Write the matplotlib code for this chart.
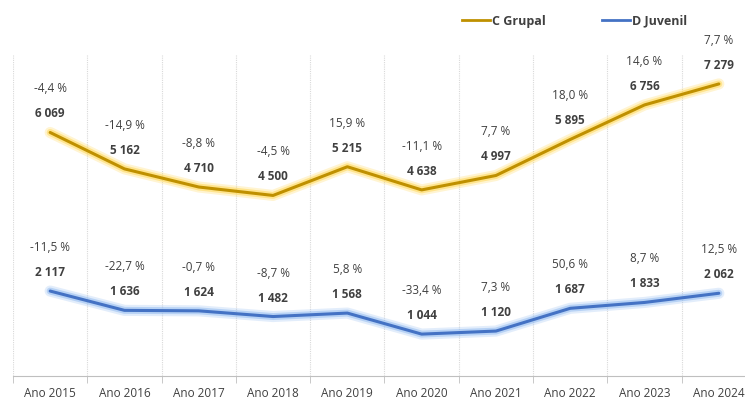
import numpy as np
import matplotlib.pyplot as plt
from matplotlib.lines import Line2D

# chart data
anos = ["Ano 2015", "Ano 2016", "Ano 2017", "Ano 2018", "Ano 2019",
        "Ano 2020", "Ano 2021", "Ano 2022", "Ano 2023", "Ano 2024"]
grupal = [6069, 5162, 4710, 4500, 5215, 4638, 4997, 5895, 6756, 7279]
grupal_var = ["-4,4 %", "-14,9 %", "-8,8 %", "-4,5 %", "15,9 %",
              "-11,1 %", "7,7 %", "18,0 %", "14,6 %", "7,7 %"]
juvenil = [2117, 1636, 1624, 1482, 1568, 1044, 1120, 1687, 1833, 2062]
juvenil_var = ["-11,5 %", "-22,7 %", "-0,7 %", "-8,7 %", "5,8 %",
               "-33,4 %", "7,3 %", "50,6 %", "8,7 %", "12,5 %"]

plt.rcParams['font.family'] = ['Open Sans', 'DejaVu Sans']
txt_col = '#404040'

W, H = 745, 407
fig = plt.figure(figsize=(W / 100, H / 100), dpi=100)
# axes reaches a bit past the right edge, like the cropped original
ax = fig.add_axes([13 / W, (H - 376) / H, (756 - 13) / W, (376 - 55) / H])

x = np.arange(len(anos))

def draw_series(vals, labels, core, glow):
    ax.plot(x, vals, color=glow, lw=8, alpha=0.25, solid_capstyle='round', zorder=2)
    ax.plot(x, vals, color=glow, lw=5, alpha=0.5, solid_capstyle='round', zorder=2)
    ax.plot(x, vals, color=core, lw=2.2, solid_capstyle='round', zorder=3)
    for xi, v, p in zip(x, vals, labels):
        ax.annotate(f"{v:,}".replace(",", " "), (xi, v), xytext=(0, 12),
                    textcoords='offset pixels', ha='center', va='bottom',
                    fontsize=8.5, fontweight='bold', color=txt_col)
        ax.annotate(p, (xi, v), xytext=(0, 37), textcoords='offset pixels',
                    ha='center', va='bottom', fontsize=8.5, color=txt_col)

draw_series(grupal, grupal_var, '#BF9000', '#FFD54A')
draw_series(juvenil, juvenil_var, '#4472C4', '#8DB8F0')

ax.set_xlim(-0.5, len(anos) - 0.5)
ax.set_ylim(0, 8000)
ax.set_yticks([])
ax.set_xticks(x)
ax.set_xticklabels(anos, fontsize=8.5, color=txt_col)
ax.tick_params(axis='x', which='major', length=0, pad=8)
ax.set_xticks(np.arange(-0.5, len(anos), 1), minor=True)
ax.tick_params(axis='x', which='minor', length=5, color='#BFBFBF')
ax.grid(True, axis='x', which='minor', color='#D9D9D9', lw=0.8, ls=(0, (1, 1)))

for s in ['top', 'right', 'left']:
    ax.spines[s].set_visible(False)
ax.spines['bottom'].set_color('#BFBFBF')

handles = [Line2D([], [], color='#BF9000', lw=2),
           Line2D([], [], color='#4472C4', lw=2)]
fig.legend(handles, ["C Grupal", "D Juvenil"], loc='center',
           bbox_to_anchor=(575 / W, 1 - 21 / H), ncol=2, frameon=False,
           handlelength=2.2, handletextpad=0.2, columnspacing=4.5,
           labelcolor=txt_col, prop={'weight': 'bold', 'size': 9})

fig.savefig('out.png', dpi=100)
